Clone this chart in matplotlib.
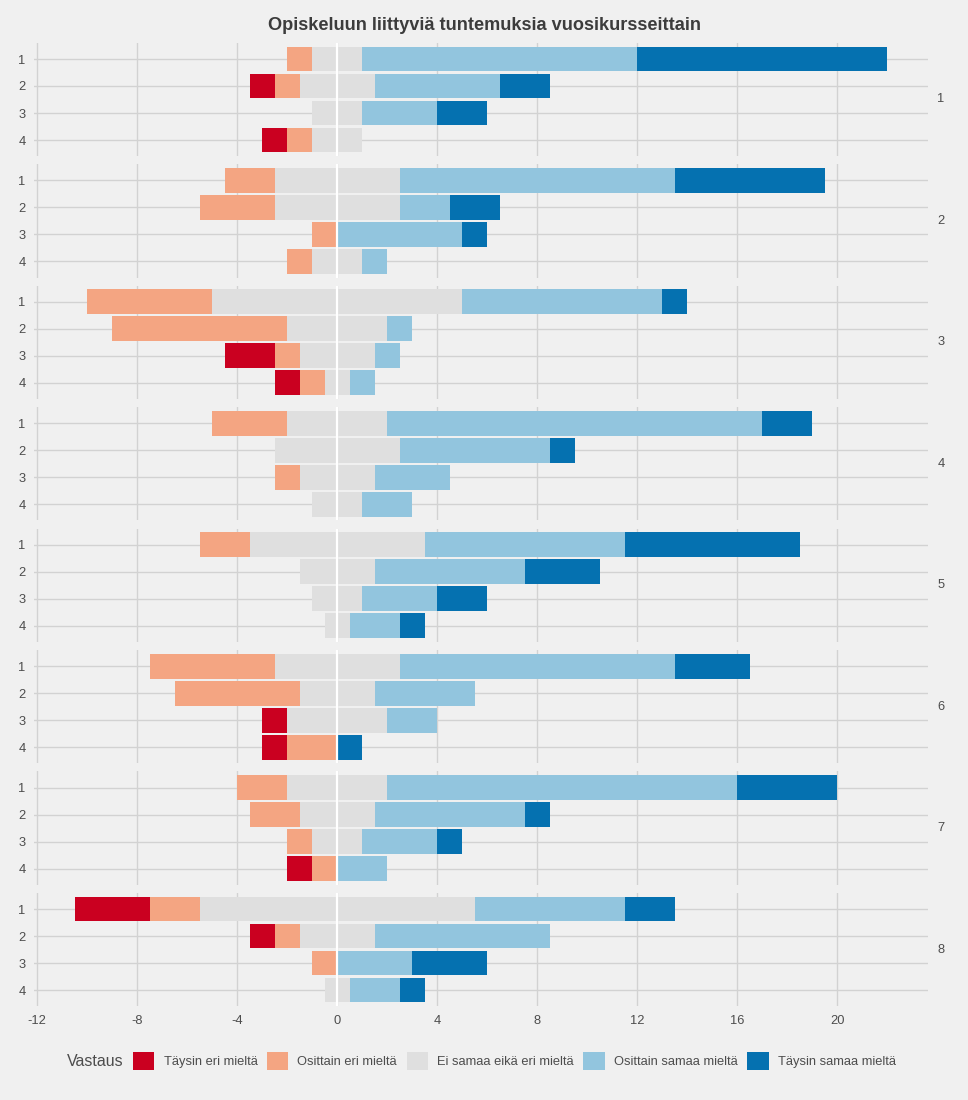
import numpy as np
import matplotlib
matplotlib.use("Agg")
import matplotlib.pyplot as plt
from matplotlib.patches import Patch

plt.rcParams["font.family"] = ["Liberation Sans", "DejaVu Sans"]

# --- data: answers per year group (facet) and question (row 1..4) ---
years = ["1", "2", "3", "4", "5", "6", "7", "8"]
questions = ["1", "2", "3", "4"]
categories = ["Täysin eri mieltä", "Osittain eri mieltä", "Ei samaa eikä eri mieltä",
              "Osittain samaa mieltä", "Täysin samaa mieltä"]
colors = ["#CA0020", "#F4A582", "#DFDFDF", "#92C5DE", "#0571B0"]

taysin_eri = [[0, 1, 0, 1], [0, 0, 0, 0], [0, 0, 2, 1], [0, 0, 0, 0],
              [0, 0, 0, 0], [0, 0, 1, 1], [0, 0, 0, 1], [3, 1, 0, 0]]
osittain_eri = [[1, 1, 0, 1], [2, 3, 1, 1], [5, 7, 1, 1], [3, 0, 1, 0],
                [2, 0, 0, 0], [5, 5, 0, 2], [2, 2, 1, 1], [2, 1, 1, 0]]
neutraali = [[2, 3, 2, 2], [5, 5, 0, 2], [10, 4, 3, 1], [4, 5, 3, 2],
             [7, 3, 2, 1], [5, 3, 4, 0], [4, 3, 2, 0], [11, 3, 0, 1]]
osittain_samaa = [[11, 5, 3, 0], [11, 2, 5, 1], [8, 1, 1, 1], [15, 6, 3, 2],
                  [8, 6, 3, 2], [11, 4, 2, 0], [14, 6, 3, 2], [6, 7, 3, 2]]
taysin_samaa = [[10, 2, 2, 0], [6, 2, 1, 0], [1, 0, 0, 0], [2, 1, 0, 0],
                [7, 3, 2, 1], [3, 0, 0, 1], [4, 1, 1, 0], [2, 0, 3, 1]]

xticks = [-12, -8, -4, 0, 4, 8, 12, 16, 20]

BG = "#F0F0F0"
GRID = "#D2D2D2"
TXT = "#4D4D4D"

W, H = 968, 1100
fig = plt.figure(figsize=(W / 100, H / 100), dpi=100, facecolor=BG)

left_px, right_px = 34, 928
top0, step, panel_h = 42.8, 121.43, 113.4

y = np.arange(1, 5)
for i, yr in enumerate(years):
    top = top0 + i * step
    ax = fig.add_axes([left_px / W, 1 - (top + panel_h) / H,
                       (right_px - left_px) / W, panel_h / H])
    ax.set_facecolor(BG)

    te = np.array(taysin_eri[i], float)
    oe = np.array(osittain_eri[i], float)
    ne = np.array(neutraali[i], float)
    os_ = np.array(osittain_samaa[i], float)
    ts = np.array(taysin_samaa[i], float)

    # diverging stack: neutral centred on zero
    start = -(te + oe + ne / 2)
    ax.barh(y, te, left=start, height=0.92, color=colors[0], lw=0, zorder=2)
    ax.barh(y, oe, left=start + te, height=0.92, color=colors[1], lw=0, zorder=2)
    ax.barh(y, ne, left=-ne / 2, height=0.92, color=colors[2], lw=0, zorder=2)
    ax.barh(y, os_, left=ne / 2, height=0.92, color=colors[3], lw=0, zorder=2)
    ax.barh(y, ts, left=ne / 2 + os_, height=0.92, color=colors[4], lw=0, zorder=2)

    ax.axvline(0, color="white", lw=1.6, zorder=3)

    ax.set_xlim(-12.125, 23.625)
    ax.set_ylim(4.6, 0.4)
    ax.set_xticks(xticks)
    ax.set_yticks(y)
    ax.set_yticklabels(questions)
    ax.grid(True, color=GRID, lw=1.0, zorder=0)
    ax.set_axisbelow(True)
    for s in ax.spines.values():
        s.set_visible(False)
    ax.tick_params(length=0, labelsize=9.3, colors=TXT, pad=6)
    if i < len(years) - 1:
        ax.tick_params(labelbottom=False)
    else:
        ax.set_xticklabels([str(t) for t in xticks])
        ax.tick_params(axis="x", pad=6.5)

    ax.text(1.0105, 0.5, yr, transform=ax.transAxes, ha="left", va="center",
            fontsize=9.3, color=TXT)

fig.text(0.5, 1 - 25 / H, "Opiskeluun liittyviä tuntemuksia vuosikursseittain",
         ha="center", va="center", fontsize=13.1, fontweight="bold", color="#3C3C3C")

# legend
handles = [Patch(facecolor=c, edgecolor="none") for c in colors]
fig.text(67 / W, 1 - 1061 / H, "Vastaus", ha="left", va="center",
         fontsize=11.5, color=TXT)
fig.legend(handles, categories, loc="center left",
           bbox_to_anchor=(128 / W, 1 - 1061 / H), ncol=5, frameon=False,
           fontsize=9.3, labelcolor=TXT, handlelength=1.65, handleheight=1.65,
           handletextpad=0.7, columnspacing=0.75, borderaxespad=0)

fig.savefig("out.png", dpi=100, facecolor=BG)
